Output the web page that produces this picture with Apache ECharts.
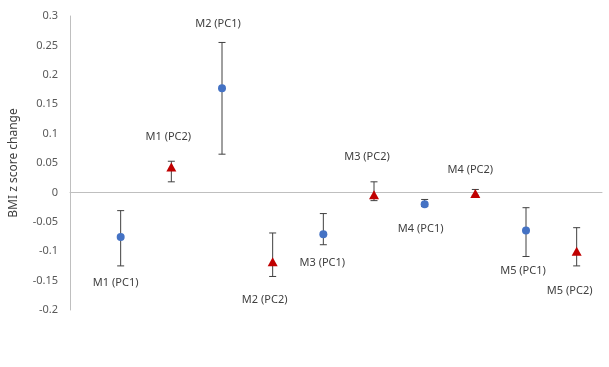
<!DOCTYPE html>
<html><head><meta charset="utf-8">
<script src="https://cdn.jsdelivr.net/npm/echarts@6/dist/echarts.min.js"></script>
<style>html,body{margin:0;padding:0;background:#fff}#c{width:609px;height:367px}</style>
</head><body><div id="c"></div>
<script>
const pointLabels = ['M1 (PC1)','M1 (PC2)','M2 (PC1)','M2 (PC2)','M3 (PC1)','M3 (PC2)','M4 (PC1)','M4 (PC2)','M5 (PC1)','M5 (PC2)'];
const groupKind = ['PC1','PC2','PC1','PC2','PC1','PC2','PC1','PC2','PC1','PC2'];
const values = [-0.076, 0.043, 0.177, -0.118, -0.071, -0.004, -0.020, -0.002, -0.065, -0.100];
const upper  = [-0.031, 0.053, 0.255, -0.069, -0.036, 0.018, -0.012, 0.005, -0.026, -0.060];
const lower  = [-0.125, 0.018, 0.065, -0.143, -0.089, -0.014, -0.024, -0.005, -0.109, -0.125];
const yTicks = [-0.2,-0.15,-0.1,-0.05,0,0.05,0.1,0.15,0.2,0.25,0.3];

// label offsets (style only)
const labelOffsets = [[-5,46],[-3,-30],[-4,-64],[-8,38],[-1,29],[-7,-38],[-4,25],[-5,-24],[-3,40],[-7,40]];

const chart = echarts.init(document.getElementById('c'));
const font = 'Noto Sans';
function pts(kind){
  const out=[];
  values.forEach((v,i)=>{ if(groupKind[i]===kind) out.push({
    value:[i+1,v], name: pointLabels[i],
    label:{show:true, position:'inside', offset:labelOffsets[i], formatter: pointLabels[i],
      color:'#404040', fontSize:11, fontFamily:font}
  });});
  return out;
}
const errData = values.map((v,i)=>[i+1, lower[i], upper[i]]);
chart.setOption({
  animation:false,
  grid:{left:68,right:7,top:16,bottom:57},
  xAxis:{type:'value',min:0,max:10.5,
    axisLine:{show:true,onZero:true,lineStyle:{color:'#BFBFBF',width:1}},
    axisTick:{show:false},axisLabel:{show:false},splitLine:{show:false}},
  yAxis:{type:'value',min:-0.2,max:0.3,interval:0.05,
    name:'BMI z score change',nameLocation:'middle',nameGap:50,nameRotate:90,
    nameTextStyle:{color:'#404040',fontSize:12,fontFamily:font},
    axisLine:{show:true,lineStyle:{color:'#BFBFBF',width:1}},
    axisTick:{show:false},splitLine:{show:false},
    axisLabel:{color:'#595959',fontSize:11,fontFamily:font,margin:12,
      formatter:v=>{const t=yTicks.find(x=>Math.abs(x-v)<1e-9);return t===undefined?'':String(t);}}},
  series:[
    {type:'custom',data:errData,z:1,
      renderItem:function(params,api){
        const x=api.value(0);
        const lo=api.coord([x,api.value(1)]);
        const hi=api.coord([x,api.value(2)]);
        const hw=3.5;
        const st={stroke:'#404040',lineWidth:1};
        return {type:'group',children:[
          {type:'line',shape:{x1:lo[0],y1:lo[1],x2:hi[0],y2:hi[1]},style:st},
          {type:'line',shape:{x1:lo[0]-hw,y1:lo[1],x2:lo[0]+hw,y2:lo[1]},style:st},
          {type:'line',shape:{x1:hi[0]-hw,y1:hi[1],x2:hi[0]+hw,y2:hi[1]},style:st}
        ]};
      }},
    {type:'scatter',name:'PC1',data:pts('PC1'),symbol:'circle',symbolSize:8,z:3,
      itemStyle:{color:'#4472C4',opacity:1}},
    {type:'scatter',name:'PC2',data:pts('PC2'),symbol:'triangle',symbolSize:[10,9],z:3,
      itemStyle:{color:'#C00000',opacity:1}}
  ]
});
</script></body></html>
